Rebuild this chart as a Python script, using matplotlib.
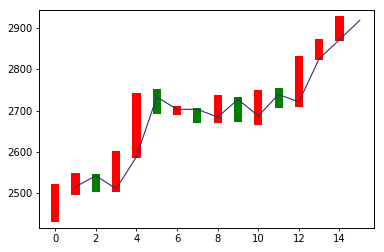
import matplotlib
matplotlib.use("Agg")
import matplotlib.pyplot as plt

# candle-like bars: x position, low end, high end, colour
bar_x = list(range(15))
bar_low = [2430, 2494, 2503, 2503, 2586, 2692, 2689, 2670, 2670, 2673, 2666, 2707, 2709, 2823, 2869]
bar_high = [2522, 2549, 2547, 2602, 2742, 2753, 2711, 2706, 2738, 2733, 2750, 2755, 2832, 2873, 2930]
bar_colors = ["red", "red", "green", "red", "red", "green", "red", "green",
              "red", "green", "red", "green", "red", "red", "red"]

# line series
line_x = list(range(1, 16))
line_y = [2515, 2542, 2510, 2588, 2733, 2703, 2703, 2684, 2727, 2687, 2739, 2721, 2826, 2872, 2919]

xticks = [0, 2, 4, 6, 8, 10, 12, 14]
yticks = [2500, 2600, 2700, 2800, 2900]

fig = plt.figure(figsize=(3.84, 2.52), dpi=100)
ax = fig.add_axes([39/384, 24/252, 335/384, 218/252])

heights = [h - l for h, l in zip(bar_high, bar_low)]
ax.bar(bar_x, heights, bottom=bar_low, width=0.4, color=bar_colors, zorder=2)
ax.plot(line_x, line_y, color="#352a7a", linewidth=0.8, zorder=3)

ax.set_xlim(-0.8, 15.7)
ax.set_ylim(2415, 2944)
ax.set_xticks(xticks)
ax.set_yticks(yticks)
ax.tick_params(labelsize=7.2, length=2.5, width=0.6, pad=2)
for s in ax.spines.values():
    s.set_linewidth(0.7)

fig.savefig("out.png", dpi=100)
